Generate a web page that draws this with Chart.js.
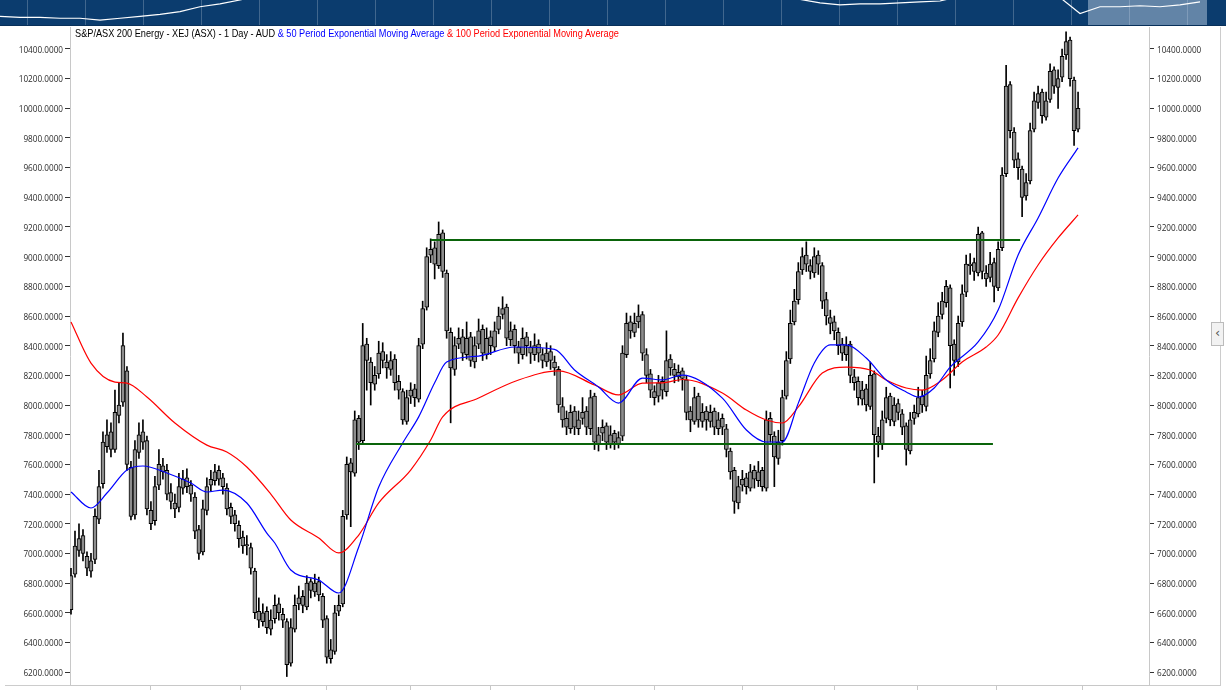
<!DOCTYPE html>
<html>
<head>
<meta charset="utf-8">
<script src="https://cdn.jsdelivr.net/npm/chart.js@4/dist/chart.umd.min.js"></script>
<style>
html, body { margin: 0; padding: 0; background: #fff; width: 1226px; height: 690px; overflow: hidden; }
#nav { position: absolute; left: 0; top: 0; width: 1226px; height: 25px; background-color: #0b3c6e;
       background-image: repeating-linear-gradient(to right, transparent 0 57px, rgba(255,255,255,0.22) 57px 58px);
       background-position: -30px 0; border-bottom: 1px solid #08305a; }
#sel { position: absolute; left: 1088px; top: 0; width: 119px; height: 25px; background: rgba(205,220,238,0.45); }
#navc { position: absolute; left: 0; top: 0; }
#frame { position: absolute; left: 5px; top: 27px; width: 1215px; height: 658px; border-right: 1px solid #ccc; border-bottom: 1px solid #ccc; }
#main { position: absolute; left: 0; top: 0; }
#title { position: absolute; left: 75px; top: 27px; font: 11px "Liberation Sans", Arial, sans-serif; white-space: nowrap; color: #000;
         line-height: 13px; transform: scaleX(0.835); transform-origin: 0 0; }
#tab { position: absolute; left: 1211px; top: 322px; width: 11px; height: 22px; border: 1px solid #bbb; background: #f2f2f2; font: 13px "DejaVu Sans", sans-serif; color: #555; text-align: center; line-height: 20px; }
</style>
</head>
<body>
<div id="frame"></div>
<canvas id="main" width="1226" height="690"></canvas>
<div id="nav"></div>
<div id="sel"></div>
<canvas id="navc" width="1226" height="25"></canvas>
<div id="title">S&amp;P/ASX 200 Energy - XEJ (ASX) - 1 Day - AUD <span style="color:#0000ff">&amp; 50 Period Exponential Moving Average</span> <span style="color:#ff0000">&amp; 100 Period Exponential Moving Average</span></div>
<div id="tab">&#8249;</div>
<script>
// Daily candles (one per trading day)
var opens = [6620,6860,7020,7120,6980,6880,6960,7230,7470,7720,7820,7700,7930,8020,8230,7580,7260,7680,7820,7760,
7290,7220,7460,7590,7560,7410,7340,7310,7440,7510,7460,7380,7160,7010,7290,7460,7490,7560,7510,7440,
7310,7260,7190,7110,7060,7040,6880,6610,6540,6610,6490,6560,6660,6590,6540,6260,6490,6660,6710,6640,
6810,6740,6810,6710,6560,6290,6340,6610,6660,7260,7610,7540,7910,7760,8410,8290,8140,8210,8360,8290,
8240,8310,8160,8090,7890,8060,8110,8040,8410,8660,9010,9060,8940,9160,8890,8490,8240,8410,8460,8340,
8460,8290,8410,8510,8340,8460,8390,8510,8610,8660,8440,8510,8390,8340,8460,8390,8340,8410,8340,8290,
8360,8290,8240,7990,7910,7840,7960,7840,7910,7960,7840,8060,7740,7810,7860,7740,7810,7740,7790,8340,
8560,8490,8560,8610,8340,8210,8090,8060,8160,8090,8310,8240,8190,8230,8170,7960,7890,8060,7890,7960,
7890,7960,7840,7910,7840,7690,7560,7340,7460,7510,7440,7560,7490,7560,7440,7910,7790,7640,7760,8060,
8310,8560,8710,8910,9010,8940,8890,9010,8940,8710,8590,8560,8490,8410,8340,8410,8190,8160,8040,8110,
7990,8210,7790,7740,7910,8060,7890,8010,7940,7860,7690,7910,7940,8060,7990,8210,8310,8490,8610,8690,
8790,8410,8290,8560,8760,8940,8960,8890,9160,8890,8860,8960,8790,9060,9560,10160,9840,9660,9590,9410,
9510,9860,10040,10110,9940,10060,10260,10140,10210,10360,10460,10190,9860];
var highs = [6900,7150,7200,7160,7010,7000,7300,7560,7820,7900,7880,8100,8150,8485,8260,7620,7760,7880,7900,7790,
7350,7520,7700,7640,7600,7470,7400,7540,7560,7570,7490,7410,7190,7360,7510,7560,7600,7590,7540,7470,
7340,7290,7220,7150,7120,7070,6900,6700,6660,6640,6620,6720,6700,6630,6560,6560,6720,6780,6750,6850,
6830,6860,6840,6730,6580,6420,6650,6720,7290,7650,7640,7960,7930,8550,8450,8320,8260,8430,8420,8340,
8360,8340,8200,8110,8100,8150,8140,8450,8700,9060,9120,9100,9234,9180,8910,8520,8460,8520,8510,8560,
8490,8460,8580,8540,8520,8500,8560,8660,8730,8680,8560,8540,8430,8520,8490,8430,8480,8440,8380,8420,
8400,8330,8260,8050,7960,8000,7990,7960,8050,7990,8100,8080,7850,7900,7880,7860,7830,7820,8400,8620,
8600,8620,8675,8630,8380,8240,8130,8200,8190,8500,8340,8280,8270,8250,8200,7990,8120,8080,8010,7990,
8000,7980,7950,7940,7870,7710,7580,7520,7560,7540,7600,7590,7620,7580,7960,7950,7820,7830,8100,8360,
8640,8780,8960,9060,9100,8980,9060,9040,8960,8760,8640,8600,8520,8450,8460,8430,8240,8190,8160,8140,
8290,8230,7850,7960,8120,8080,8050,8040,7970,7880,7950,8000,8120,8100,8330,8380,8560,8690,8760,8840,
8810,8440,8600,8810,9010,9020,8990,9200,9170,8940,9030,8990,9100,9600,10290,10180,9870,9700,9610,9560,
9900,10110,10150,10130,10110,10300,10280,10260,10400,10515,10480,10210,10110];
var lows = [6590,6840,6980,6950,6850,6840,6930,7200,7440,7680,7650,7680,7880,7990,7560,7225,7230,7640,7700,7260,
7160,7190,7430,7500,7360,7300,7240,7280,7400,7410,7350,7100,6960,6990,7260,7420,7460,7460,7400,7260,
7200,7150,7040,7000,6990,6860,6560,6500,6510,6460,6450,6530,6550,6500,6170,6240,6470,6620,6600,6620,
6700,6710,6680,6500,6260,6260,6320,6580,6640,7230,7180,7520,7700,7740,8100,8000,8100,8180,8250,8180,
8200,8100,8040,7870,7870,8010,7990,8020,8380,8640,8960,8850,8920,8860,8450,7880,8200,8380,8300,8310,
8260,8250,8380,8300,8310,8340,8360,8480,8580,8400,8400,8350,8280,8310,8330,8280,8300,8290,8250,8260,
8240,8200,7950,7850,7800,7810,7800,7800,7870,7800,7800,7700,7690,7760,7700,7710,7700,7710,7760,8320,
8450,8460,8520,8300,8150,8050,8000,8020,8040,8060,8200,8150,8160,8100,7900,7820,7870,7850,7850,7830,
7850,7800,7800,7800,7650,7500,7270,7300,7420,7400,7420,7440,7450,7420,7420,7750,7450,7600,7730,8040,
8280,8540,8680,8880,8900,8850,8860,8880,8650,8540,8480,8440,8340,8300,8300,8150,8100,8000,8000,7960,
7970,7475,7650,7700,7880,7860,7860,7900,7800,7595,7670,7870,7920,7950,7960,8180,8290,8460,8580,8660,
8115,8200,8260,8530,8730,8880,8840,8870,8850,8800,8830,8695,8770,9040,9540,9800,9600,9520,9270,9380,
9490,9840,10000,9900,9920,10040,10100,10000,10180,10330,10150,9750,9840];
var closes = [6850,7050,7100,7000,6900,6950,7250,7450,7750,7800,7700,7950,8000,8400,7600,7250,7700,7800,7750,7300,
7200,7450,7600,7550,7400,7350,7300,7450,7500,7450,7400,7150,7000,7300,7450,7500,7550,7500,7450,7300,
7250,7200,7100,7050,7050,6900,6600,6550,6600,6500,6550,6650,6600,6550,6250,6500,6650,6700,6650,6800,
6750,6800,6720,6550,6300,6350,6600,6650,7250,7600,7550,7900,7750,8400,8300,8150,8200,8350,8300,8250,
8300,8150,8100,7900,8050,8100,8050,8400,8650,9000,9050,8950,9150,8900,8500,8250,8400,8450,8350,8450,
8300,8400,8500,8350,8450,8400,8500,8600,8650,8450,8500,8400,8350,8450,8400,8350,8400,8350,8300,8350,
8300,8250,8000,7900,7850,7950,7850,7900,7950,7850,8050,7750,7800,7850,7750,7800,7750,7780,8350,8550,
8500,8550,8600,8350,8200,8100,8050,8150,8100,8300,8250,8200,8220,8180,7950,7900,8050,7900,7950,7900,
7950,7850,7900,7850,7700,7550,7350,7450,7500,7450,7550,7500,7550,7450,7900,7800,7650,7750,8050,8300,
8550,8700,8900,9000,8950,8900,9000,8950,8700,8600,8550,8500,8400,8350,8400,8200,8150,8050,8100,8000,
8200,7800,7750,7900,8050,7900,8000,7950,7850,7700,7900,7950,8050,8000,8200,8300,8500,8600,8700,8800,
8400,8300,8550,8750,8950,8950,8900,9150,8900,8850,8950,8800,9050,9550,10150,9850,9650,9600,9400,9500,
9850,10050,10100,9950,10050,10250,10150,10200,10350,10450,10200,9850,10000];

// Moving averages, sampled at these trading days
var ema50Days = [0,5,9,14,18,24,30,34,38,44,49,51,55,62,67,72,77,83,87,91,94,102,111,121,126,132,137,143,148,153,
163,169,174,178,182,186,190,194,199,204,209,212,216,220,227,232,237,242,247,252];
var ema50 = [7414,7306,7407,7562,7589,7542,7474,7414,7427,7340,7137,7070,6888,6820,6733,7043,7447,7744,7920,8150,
8290,8330,8391,8375,8236,8121,8013,8182,8169,8202,8047,7832,7751,7751,8013,8283,8405,8405,8317,8169,
8088,8054,8115,8256,8425,8640,9011,9261,9530,9733];
var ema100Days = [0,5,11,14,19,26,34,39,44,50,55,62,67,72,77,85,90,93,102,112,122,131,137,143,148,153,163,169,174,178,
182,188,194,200,204,209,213,218,223,229,232,237,242,247,252];
var ema100 = [8560,8283,8155,8148,8054,7879,7730,7683,7582,7400,7225,7104,7003,7124,7340,7562,7764,7920,8047,8169,
8230,8135,8068,8148,8150,8172,8081,7966,7899,7879,7987,8216,8256,8236,8169,8115,8101,8169,8290,8391,
8472,8722,8944,9126,9281];

// Horizontal support / resistance lines: [fromDay, toDay, level]
var resistance = [90, 237.5, 9112];
var support = [71.3, 230.7, 7737];

// Month boundaries on the bottom axis (in trading days)
var monthStarts = [20, 42.3, 64, 85, 105, 126, 146, 168, 191, 211.7, 231.7, 253];
var priceTicks = [6200,6400,6600,6800,7000,7200,7400,7600,7800,8000,8200,8400,8600,8800,9000,9200,9400,9600,9800,10000,10200,10400];

// Navigator (long history), one value per step
var navValues = [5690,5615,5615,5540,5540,5385,5540,5690,5845,6075,6460,6690,7000,7400,7800,8200,8500,8800,9000,9300,
9000,8700,8400,8200,8500,8700,8400,8000,7800,7600,7400,7600,7500,7300,7400,7600,7400,7300,7200,7100,
7050,6770,6615,6690,6690,6770,6845,6920,7300,7600,7500,7400,7300,7200,5920,6460,6460,6540,6460,6615,6845];

var days = closes.map(function(c, i) { return i; });

var labelFont = { family: 'Open Sans', size: 8.2 };

function noPad(s) {
	s.paddingTop = 0;
	s.paddingBottom = 0;
	s.paddingLeft = 0;
	s.paddingRight = 0;
}

function yAxis(pos, w, pad) {
	return {
		position: pos,
		min: 6113,
		max: 10548,
		afterBuildTicks: function(s) { s.ticks = priceTicks.map(function(v) { return { value: v }; }); },
		afterFit: function(s) { s.width = w; noPad(s); },
		ticks: { font: labelFont, color: '#2a2a2a', padding: pad, labelOffset: 1.5, callback: function(v) { return v.toFixed(4); } },
		grid: { drawOnChartArea: false, tickLength: 5, color: '#333' },
		border: { color: '#c8c8c8' }
	};
}

var ctx = document.getElementById('main').getContext('2d');
var chart = new Chart(ctx, {
	type: 'bar',
	data: {
		datasets: [{
			type: 'line',
			label: 'Resistance',
			data: [{ x: resistance[0], y: resistance[2] }, { x: resistance[1], y: resistance[2] }],
			borderColor: '#0a640a',
			borderWidth: 2,
			pointRadius: 0,
			order: 0
		}, {
			type: 'line',
			label: 'Support',
			data: [{ x: support[0], y: support[2] }, { x: support[1], y: support[2] }],
			borderColor: '#0a640a',
			borderWidth: 2,
			pointRadius: 0,
			order: 0
		}, {
			type: 'line',
			label: '50 EMA',
			data: ema50Days.map(function(d, k) { return { x: d, y: ema50[k] }; }),
			borderColor: '#0000ff',
			borderWidth: 1.2,
			pointRadius: 0,
			cubicInterpolationMode: 'monotone',
			order: 0
		}, {
			type: 'line',
			label: '100 EMA',
			data: ema100Days.map(function(d, k) { return { x: d, y: ema100[k] }; }),
			borderColor: '#ff0000',
			borderWidth: 1.2,
			pointRadius: 0,
			cubicInterpolationMode: 'monotone',
			order: 0
		}, {
			label: 'Body',
			data: days.map(function(i) { return { x: i, y: [opens[i], closes[i]] }; }),
			backgroundColor: '#8d8d8d',
			borderColor: '#000',
			borderWidth: 1,
			borderSkipped: false,
			barThickness: 4,
			grouped: false,
			order: 1
		}, {
			label: 'Wick',
			data: days.map(function(i) { return { x: i, y: [lows[i], highs[i]] }; }),
			backgroundColor: '#000',
			barThickness: 1,
			grouped: false,
			order: 2
		}]
	},
	options: {
		responsive: false,
		animation: false,
		events: [],
		layout: { padding: { top: 27, left: 0, right: 0, bottom: 0 } },
		plugins: { legend: { display: false }, tooltip: { enabled: false } },
		scales: {
			x: {
				type: 'linear',
				min: -0.25,
				max: 269.75,
				offset: false,
				afterBuildTicks: function(s) { s.ticks = monthStarts.map(function(v) { return { value: v }; }); },
				afterFit: function(s) { s.height = 5; noPad(s); },
				ticks: { display: false },
				grid: { offset: false, drawOnChartArea: false, tickLength: 5, color: '#c8c8c8' },
				border: { color: '#c8c8c8' }
			},
			y: yAxis('left', 70, 2),
			y2: yAxis('right', 77, 3)
		}
	}
});

// Navigator strip
var nctx = document.getElementById('navc').getContext('2d');
var nav = new Chart(nctx, {
	type: 'line',
	data: {
		datasets: [{
			data: navValues.map(function(v, k) { return { x: k, y: v }; }),
			borderColor: '#ffffff',
			borderWidth: 1.2,
			pointRadius: 0
		}]
	},
	options: {
		responsive: false,
		animation: false,
		events: [],
		plugins: { legend: { display: false }, tooltip: { enabled: false } },
		scales: {
			x: { type: 'linear', display: false, min: 0, max: 61.3 },
			y: { display: false, min: 5000, max: 7000 }
		}
	}
});
</script>
</body>
</html>
